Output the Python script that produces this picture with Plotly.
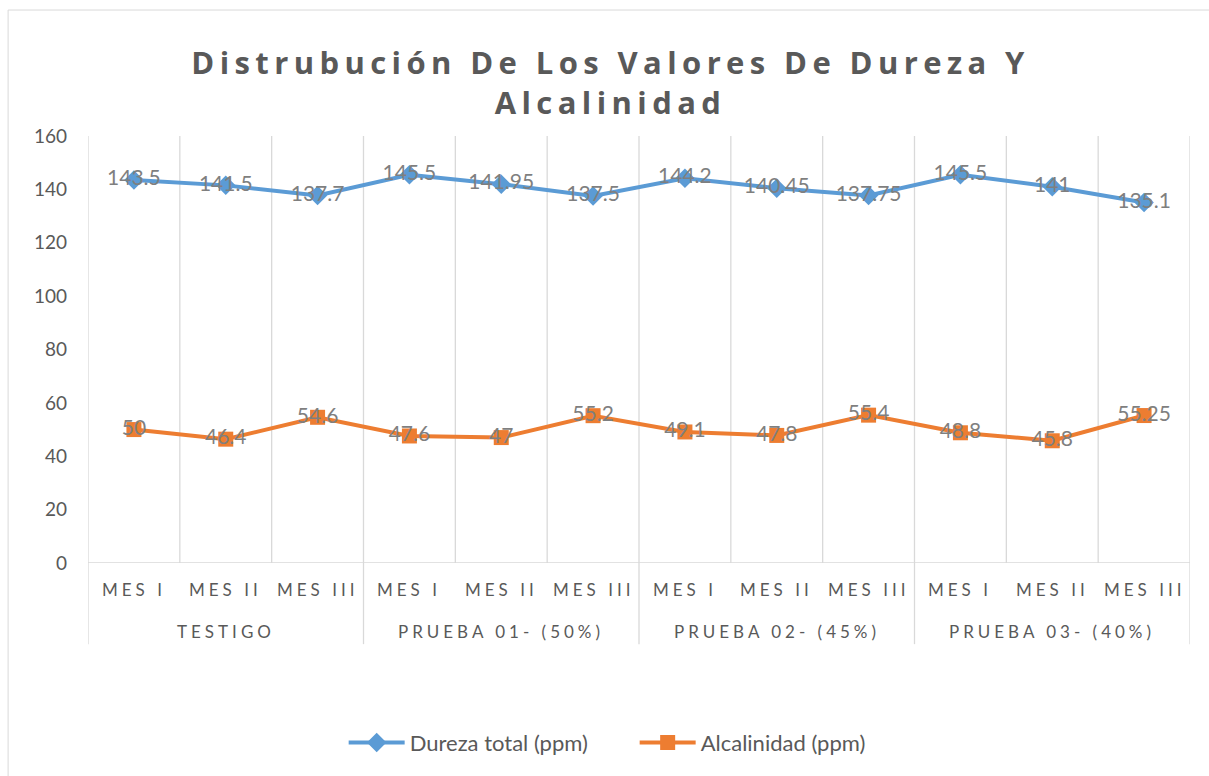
import plotly.graph_objects as go

categories = ["MES I", "MES II", "MES III"] * 4
groups = ["TESTIGO", "PRUEBA 01- (50%)", "PRUEBA 02- (45%)", "PRUEBA 03- (40%)"]
dureza = [143.5, 141.5, 137.7, 145.5, 141.95, 137.5, 144.2, 140.45, 137.75, 145.5, 141, 135.1]
alcalinidad = [50, 46.4, 54.6, 47.6, 47, 55.2, 49.1, 47.8, 55.4, 48.8, 45.8, 55.25]
y_ticks = [0, 20, 40, 60, 80, 100, 120, 140, 160]

FONT = "Lato"
GRID = "#d9d9d9"
TXT = "#595959"
LBL = "#7f7f7f"

xs = list(range(len(categories)))

fig = go.Figure()
fig.add_trace(go.Scatter(
    x=xs, y=dureza, name="Dureza total (ppm)", mode="lines+markers+text",
    line=dict(color="#5B9BD5", width=4),
    marker=dict(symbol="diamond", size=15, color="#5B9BD5"),
    text=[f"{v:g}" for v in dureza], textposition="middle center",
    textfont=dict(family=FONT, size=21, color=LBL),
))
fig.add_trace(go.Scatter(
    x=xs, y=alcalinidad, name="Alcalinidad (ppm)", mode="lines+markers+text",
    line=dict(color="#ED7D31", width=4),
    marker=dict(symbol="square", size=15, color="#ED7D31"),
    text=[f"{v:g}" for v in alcalinidad], textposition="middle center",
    textfont=dict(family=FONT, size=21, color=LBL),
))

shapes = []
n = len(categories)
for k in range(n + 1):
    xb = k - 0.5
    shapes.append(dict(type="line", xref="x", yref="y", x0=xb, x1=xb, y0=0, y1=160,
                       line=dict(color=GRID, width=1.3), layer="below"))
    if k % 3 == 0:
        shapes.append(dict(type="line", xref="x", yref="paper", x0=xb, x1=xb, y0=0, y1=-0.19,
                           line=dict(color=GRID, width=1.3), layer="below"))
shapes.append(dict(type="line", xref="x", yref="y", x0=-0.5, x1=n - 0.5, y0=0, y1=0,
                   line=dict(color=GRID, width=1.3), layer="below"))
shapes.append(dict(type="rect", xref="paper", yref="paper", x0=-0.0725, x1=1.05,
                   y0=-0.52, y1=1.295, line=dict(color=GRID, width=1), layer="below"))

annotations = []
for i, c in enumerate(categories):
    annotations.append(dict(x=i, y=-0.061, xref="x", yref="paper", text=c, showarrow=False,
                            font=dict(family=FONT, size=17, color=TXT), xanchor="center", yanchor="middle"))
for g, name in enumerate(groups):
    annotations.append(dict(x=g * 3 + 1, y=-0.161, xref="x", yref="paper", text=name, showarrow=False,
                            font=dict(family=FONT, size=17, color=TXT), xanchor="center", yanchor="middle"))

fig.update_layout(
    width=1209, height=776,
    margin=dict(l=88, r=19, t=136, b=210),
    paper_bgcolor="white", plot_bgcolor="white",
    title=dict(text="Distrubución De Los Valores De Dureza Y<br>Alcalinidad",
               x=0.505, xref="container", xanchor="center",
               y=(776 - 74) / 776, yref="container", yanchor="middle",
               font=dict(family="Open Sans", size=31, color=TXT, weight="bold")),
    xaxis=dict(range=[-0.5, n - 0.5], showgrid=False, zeroline=False, showticklabels=False,
               showline=False, ticks="", fixedrange=True),
    yaxis=dict(range=[0, 160], tickvals=y_ticks, showgrid=False, zeroline=False,
               showline=False, ticks="", ticklabelstandoff=20,
               tickfont=dict(family=FONT, size=19, color=TXT)),
    showlegend=True,
    legend=dict(orientation="h", x=0.232, xanchor="left", y=-0.421, yanchor="middle",
                font=dict(family=FONT, size=22, color=TXT), itemwidth=56,
                entrywidth=220, entrywidthmode="pixels",
                bgcolor="rgba(0,0,0,0)"),
    shapes=shapes, annotations=annotations,
)

post = """
document.body.style.margin='0';
function ls(){
  document.querySelectorAll('.gtitle').forEach(function(e){e.style.letterSpacing='5.4px';});
  document.querySelectorAll('.annotation-text').forEach(function(e){e.style.letterSpacing='4px';});
}
ls(); setTimeout(ls, 50);
"""
fig.write_html("out.html", post_script=post, config={"displayModeBar": False})
